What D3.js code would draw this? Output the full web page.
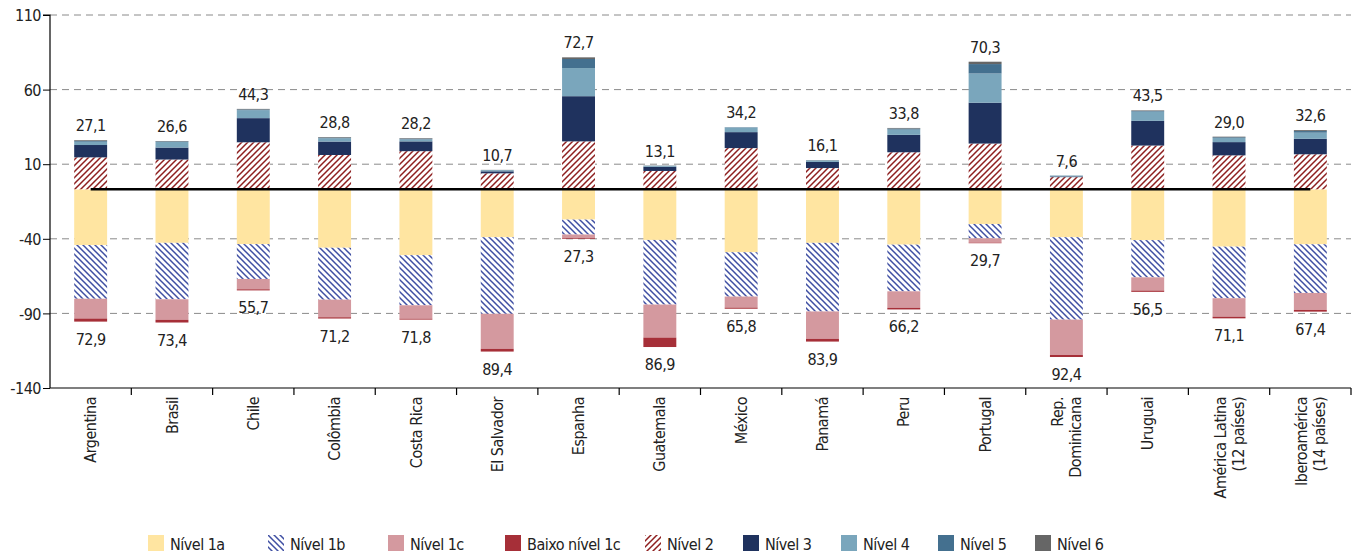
<!DOCTYPE html>
<html>
<head>
<meta charset="utf-8">
<script src="https://cdn.jsdelivr.net/npm/d3@7"></script>
<style>
  body { margin: 0; background: #fff; }
  svg text { font-family: "DejaVu Sans Condensed", "Liberation Sans Narrow", sans-serif; fill: #222; letter-spacing: -0.5px; }
</style>
</head>
<body>
<div id="chart"></div>
<script>
// Categories and values (percent of students by level)
var categories = ["Argentina", "Brasil", "Chile", "Colômbia", "Costa Rica", "El Salvador", "Espanha", "Guatemala",
  "México", "Panamá", "Peru", "Portugal", "Rep.\nDominicana", "Uruguai", "América Latina\n(12 países)", "Iberoamérica\n(14 países)"];

var nivel1a = [30.7, 29.5, 30.2, 32.2, 36.3, 26.4, 16.7, 27.9, 34.7, 29.5, 30.5, 19.1, 26.4, 28.0, 31.6, 30.3];
var nivel1b = [29.6, 31.1, 19.2, 28.6, 27.6, 42.2, 8.2, 35.6, 24.4, 37.8, 25.7, 7.9, 45.4, 20.5, 28.4, 26.8];
var nivel1c = [10.9, 11.3, 5.7, 9.7, 7.4, 19.3, 2.0, 18.2, 6.1, 15.1, 9.1, 2.4, 19.5, 7.3, 10.2, 9.4];
var baixo1c = [1.7, 1.5, 0.6, 0.7, 0.5, 1.5, 0.4, 5.2, 0.6, 1.5, 0.9, 0.3, 1.1, 0.7, 0.9, 0.9];
var nivel2 = [17.6, 16.4, 25.9, 18.9, 21.0, 8.8, 26.4, 10.1, 22.7, 11.7, 20.4, 25.2, 6.7, 24.1, 18.7, 19.3];
var nivel3 = [6.8, 6.6, 13.3, 7.4, 5.4, 1.1, 24.9, 2.3, 8.8, 3.4, 9.6, 22.5, 0.4, 13.6, 7.3, 8.5];
var nivel4 = [1.8, 3.1, 4.4, 1.8, 1.1, 0.6, 15.5, 0.5, 2.5, 0.8, 2.9, 16.1, 0.4, 5.1, 2.3, 3.4];
var nivel5 = [0.5, 0.3, 0.4, 0.4, 0.4, 0.1, 5.0, 0.1, 0.2, 0.1, 0.6, 5.2, 0.1, 0.4, 0.4, 0.9];
var nivel6 = [0.4, 0.2, 0.3, 0.3, 0.3, 0.1, 0.9, 0.1, 0.0, 0.1, 0.3, 1.3, 0.0, 0.3, 0.3, 0.5];

// labels printed above / below each bar
var totalAcima = [27.1, 26.6, 44.3, 28.8, 28.2, 10.7, 72.7, 13.1, 34.2, 16.1, 33.8, 70.3, 7.6, 43.5, 29.0, 32.6];
var totalAbaixo = [72.9, 73.4, 55.7, 71.2, 71.8, 89.4, 27.3, 86.9, 65.8, 83.9, 66.2, 29.7, 92.4, 56.5, 71.1, 67.4];

var yTicks = [110, 60, 10, -40, -90, -140];

var series = [
  { key: "n1a", name: "Nível 1a", values: nivel1a, sign: -1, fill: "#FFE5A1" },
  { key: "n1b", name: "Nível 1b", values: nivel1b, sign: -1, fill: "url(#hatch1b)" },
  { key: "n1c", name: "Nível 1c", values: nivel1c, sign: -1, fill: "#D4999F" },
  { key: "b1c", name: "Baixo nível 1c", values: baixo1c, sign: -1, fill: "#A62F38" },
  { key: "n2", name: "Nível 2", values: nivel2, sign: 1, fill: "url(#hatch2)" },
  { key: "n3", name: "Nível 3", values: nivel3, sign: 1, fill: "#1F325E" },
  { key: "n4", name: "Nível 4", values: nivel4, sign: 1, fill: "#7AA6BC" },
  { key: "n5", name: "Nível 5", values: nivel5, sign: 1, fill: "#44708F" },
  { key: "n6", name: "Nível 6", values: nivel6, sign: 1, fill: "#666666" }
];

const width = 1353;
const height = 554;
const mLeft = 50, mRight = 1351, mTop = 15, mBottom = 388;
const fontSize = 16;

const svg = d3.select('#chart').append('svg')
  .attr('width', width)
  .attr('height', height);

// patterns
const defs = svg.append('defs');
const p1 = defs.append('pattern').attr('id', 'hatch1b')
  .attr('patternUnits', 'userSpaceOnUse').attr('width', 6).attr('height', 6);
p1.append('rect').attr('width', 6).attr('height', 6).attr('fill', '#fff');
p1.append('path').attr('d', 'M0,0L6,6M-1,5L1,7M5,-1L7,1')
  .attr('stroke', '#3F4FA3').attr('stroke-width', 1.5);
const p2 = defs.append('pattern').attr('id', 'hatch2')
  .attr('patternUnits', 'userSpaceOnUse').attr('width', 6).attr('height', 6);
p2.append('rect').attr('width', 6).attr('height', 6).attr('fill', '#fff');
p2.append('path').attr('d', 'M0,6L6,0M-1,1L1,-1M5,7L7,5')
  .attr('stroke', '#8E1F1F').attr('stroke-width', 1.5);

// scales
const yAxisScale = d3.scaleLinear().domain([-140, 110]).range([mBottom, mTop]);
const base = 189.3;
const yBar = d3.scaleLinear().domain([-100, 100]).range([base + 181.5, base - 181.5]);
const xCat = d3.scaleBand().domain(categories).range([mLeft, mRight]);
const x = d3.scaleBand().domain(categories).range([mLeft, mRight]).paddingInner(0.595).paddingOuter(0.2975);

// grid lines
svg.append('g').selectAll('line')
  .data(yTicks.filter(t => t > -140))
  .enter().append('line')
  .attr('x1', mLeft).attr('x2', mRight)
  .attr('y1', d => yAxisScale(d)).attr('y2', d => yAxisScale(d))
  .attr('stroke', '#8a8a8a').attr('stroke-width', 1)
  .attr('stroke-dasharray', '7,5');

// left axis
const yAxis = d3.axisLeft(yAxisScale).tickValues(yTicks).tickSize(7).tickFormat(d => d);
const gy = svg.append('g').attr('transform', `translate(${mLeft},0)`).call(yAxis);
gy.attr('font-family', null).attr('font-size', null);
gy.select('.domain').attr('stroke', '#000').attr('stroke-width', 1.2).attr('d', `M-7,${mTop}H0V${mBottom}`);
gy.selectAll('.tick line').attr('stroke', '#000');
gy.selectAll('.tick text').attr('font-size', fontSize).attr('x', -9).attr('dy', '0.35em').attr('fill', '#222');

// bottom axis
svg.append('line').attr('x1', mLeft).attr('x2', mRight).attr('y1', mBottom).attr('y2', mBottom)
  .attr('stroke', '#000').attr('stroke-width', 1.2);
svg.append('g').selectAll('line')
  .data(categories.slice(1).concat(['__end']))
  .enter().append('line')
  .attr('x1', d => d === '__end' ? mRight : xCat(d))
  .attr('x2', d => d === '__end' ? mRight : xCat(d))
  .attr('y1', mBottom).attr('y2', mBottom + 7)
  .attr('stroke', '#000').attr('stroke-width', 1.2);

// category labels (rotated)
const catLabels = svg.append('g').selectAll('g')
  .data(categories)
  .enter().append('g')
  .attr('transform', d => `translate(${xCat(d) + xCat.bandwidth() / 2},397) rotate(-90)`);
catLabels.each(function (d) {
  const lines = d.split('\n');
  const t = d3.select(this).append('text')
    .attr('text-anchor', 'end')
    .attr('font-size', fontSize);
  lines.forEach((ln, i) => {
    t.append('tspan').attr('x', 0)
      .attr('y', (i - (lines.length - 1) / 2) * 18)
      .attr('dy', '0.35em')
      .text(ln);
  });
});

// stacked data
const rows = categories.map((c, i) => {
  const r = { cat: c };
  series.forEach(s => { r[s.key] = s.sign * s.values[i]; });
  return r;
});
const stack = d3.stack().keys(series.map(s => s.key)).offset(d3.stackOffsetDiverging);
const stacked = stack(rows);

const layers = svg.append('g').selectAll('g')
  .data(stacked)
  .enter().append('g')
  .attr('fill', (d, i) => series[i].fill);

layers.selectAll('rect')
  .data(d => d)
  .enter().append('rect')
  .attr('x', d => x(d.data.cat))
  .attr('width', x.bandwidth())
  .attr('y', d => yBar(Math.max(d[0], d[1])))
  .attr('height', d => Math.abs(yBar(d[0]) - yBar(d[1])));

// baseline
svg.append('line')
  .attr('x1', x(categories[0]) + x.bandwidth() / 2)
  .attr('x2', x(categories[categories.length - 1]) + x.bandwidth() / 2)
  .attr('y1', base).attr('y2', base)
  .attr('stroke', '#000').attr('stroke-width', 2.5);

const fmt = v => v.toFixed(1).replace('.', ',');

// value labels
svg.append('g').selectAll('text')
  .data(categories)
  .enter().append('text')
  .attr('x', d => x(d) + x.bandwidth() / 2)
  .attr('y', (d, i) => yBar(totalAcima[i]) - 9)
  .attr('text-anchor', 'middle')
  .attr('font-size', fontSize)
  .text((d, i) => fmt(totalAcima[i]));

svg.append('g').selectAll('text')
  .data(categories)
  .enter().append('text')
  .attr('x', d => x(d) + x.bandwidth() / 2)
  .attr('y', (d, i) => yBar(-totalAbaixo[i]) + 23)
  .attr('text-anchor', 'middle')
  .attr('font-size', fontSize)
  .text((d, i) => fmt(totalAbaixo[i]));

// legend
const legendX = [148, 268, 388, 505, 645, 743, 841, 938, 1035];
const legend = svg.append('g').selectAll('g')
  .data(series)
  .enter().append('g')
  .attr('transform', (d, i) => `translate(${legendX[i]},535)`);
legend.append('rect')
  .attr('width', 16).attr('height', 16)
  .attr('fill', d => d.fill);
legend.append('text')
  .attr('x', 22).attr('y', 15)
  .attr('font-size', fontSize)
  .text(d => d.name);
</script>
</body>
</html>
